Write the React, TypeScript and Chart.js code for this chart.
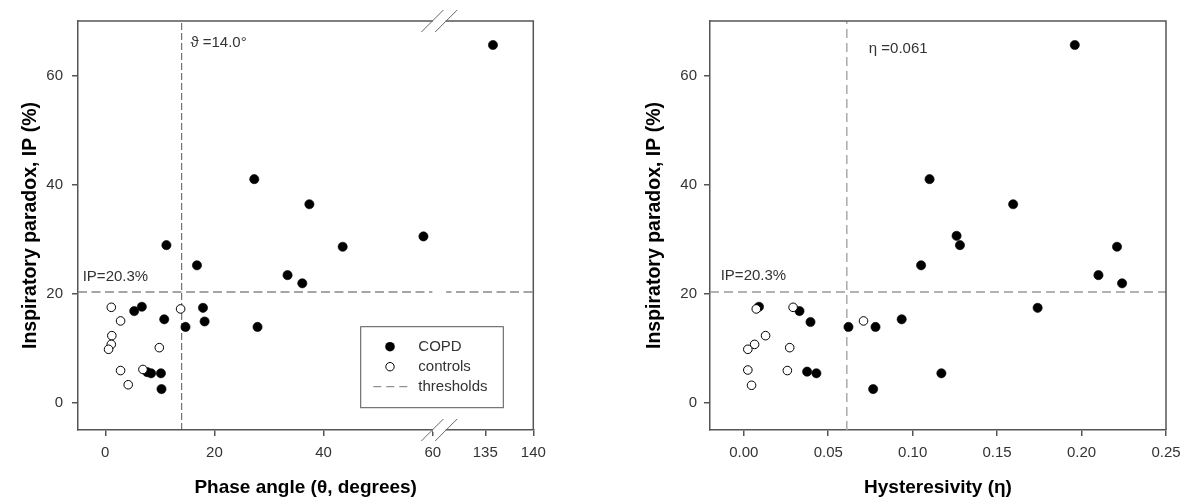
import React, { useEffect, useRef } from "react";
import { Chart, registerables } from "chart.js";

Chart.register(...registerables);

const FONT = "'Liberation Sans', Arial, Helvetica, sans-serif";
Chart.defaults.font.family = FONT;

const AXIS_COLOR = "#555";
const TEXT_COLOR = "#333";

// ---------- data ----------
// Left panel: phase angle θ (degrees) vs inspiratory paradox IP (%)
const copdTheta = [11.2, 16.8, 5.3, 6.7, 10.8, 17.9, 14.7, 18.2, 27.9, 7.7, 8.4, 10.2, 10.3, 33.4, 36.1, 43.5, 58.3, 37.4, 27.3, 135.8];
const copdIPTheta = [28.9, 25.2, 16.8, 17.6, 15.3, 17.4, 13.9, 14.9, 13.9, 5.6, 5.4, 5.4, 2.5, 23.4, 21.9, 28.6, 30.5, 36.4, 41.0, 65.6];
const ctrlTheta = [1.1, 2.8, 1.2, 1.1, 0.6, 9.9, 2.8, 6.9, 4.2, 13.8];
const ctrlIPTheta = [17.5, 15.0, 12.3, 10.7, 9.8, 10.1, 5.9, 6.1, 3.3, 17.2];

// Right panel: hysteresivity η vs IP (%)
const copdEta = [0.009, 0.033, 0.0395, 0.062, 0.078, 0.0935, 0.0375, 0.043, 0.0766, 0.126, 0.128, 0.105, 0.174, 0.21, 0.221, 0.224, 0.117, 0.196, 0.11, 0.1595];
const copdIPEta = [17.6, 16.8, 14.8, 13.9, 13.9, 15.3, 5.7, 5.4, 2.5, 30.6, 28.9, 25.2, 17.4, 23.4, 28.6, 21.9, 5.4, 65.6, 41.0, 36.4];
const ctrlEta = [0.0074, 0.0292, 0.0709, 0.0129, 0.0064, 0.0024, 0.0272, 0.0024, 0.0258, 0.0046];
const ctrlIPEta = [17.2, 17.5, 15.0, 12.3, 10.7, 9.8, 10.1, 6.0, 5.9, 3.2];

// thresholds
const THETA_T = 14.0;
const ETA_T = 0.061;
const IP_T = 20.3;

// ticks
const thetaTicks = [0, 20, 40, 60, 135, 140];
const etaTicks = [0, 0.05, 0.1, 0.15, 0.2, 0.25];
const ipTicks = [0, 20, 40, 60];

// axis ranges
const IP_MIN = -5;
const IP_MAX = 70;
const THETA_MIN = -5;
const ETA_MIN = -0.02;
const ETA_MAX = 0.25;

// broken θ axis: upper segment (135–140) is stretched after the break
const SEG2_START = 135;
const SEG2_AXIS = 69.63;
const SEG2_SCALE = 1.76;
const BREAK_AT = 61.2;
const thetaToAxis = (t: number) => (t <= 100 ? t : SEG2_AXIS + (t - SEG2_START) * SEG2_SCALE);
const THETA_AXIS_MAX = thetaToAxis(140);

const X_TITLE_LEFT = "Phase angle (θ, degrees)";
const X_TITLE_RIGHT = "Hysteresivity (η)";
const Y_TITLE = "Inspiratory paradox, IP (%)";
const LEGEND_ITEMS = ["COPD", "controls", "thresholds"];

// ---------- helpers ----------
function gridOpts() {
  return {
    display: true,
    drawOnChartArea: false,
    drawTicks: true,
    tickLength: 6,
    color: AXIS_COLOR,
    lineWidth: 1.5,
  };
}
function borderOpts() {
  return { display: true, color: AXIS_COLOR, width: 1.5 };
}

function pointSets(xs: number[], ys: number[], map: (v: number) => number) {
  return xs.map((x, i) => ({ x: map(x), y: ys[i] }));
}

function drawFrame(chart: any) {
  const { ctx, chartArea: a } = chart;
  ctx.save();
  ctx.strokeStyle = AXIS_COLOR;
  ctx.lineWidth = 1.5;
  ctx.beginPath();
  ctx.moveTo(a.left, a.top);
  ctx.lineTo(a.right, a.top);
  ctx.lineTo(a.right, a.bottom);
  ctx.stroke();
  ctx.restore();
}

function drawText(ctx: any, text: string, x: number, y: number) {
  ctx.save();
  ctx.font = `15px ${FONT}`;
  ctx.fillStyle = TEXT_COLOR;
  ctx.textBaseline = "middle";
  ctx.textAlign = "left";
  ctx.fillText(text, x, y);
  ctx.restore();
}

const leftDecor = {
  id: "leftDecor",
  afterDatasetsDraw(chart: any) {
    const { ctx, chartArea: a, scales } = chart;
    drawFrame(chart);
    // axis break
    const bx = scales.x.getPixelForValue(BREAK_AT);
    const half = 6.9;
    const yThr = scales.y.getPixelForValue(IP_T);
    ctx.save();
    ctx.fillStyle = "#fff";
    [a.top, a.bottom].forEach((y: number) => ctx.fillRect(bx - half + 0.5, y - 2, 2 * half - 1, 4));
    ctx.fillRect(bx - half, yThr - 2, 2 * half, 4);
    ctx.strokeStyle = "#666";
    ctx.lineWidth = 1;
    [a.top, a.bottom].forEach((y: number) => {
      [bx - half, bx + half].forEach((cx: number) => {
        ctx.beginPath();
        ctx.moveTo(cx - 11, y + 11);
        ctx.lineTo(cx + 11, y - 11);
        ctx.stroke();
      });
    });
    ctx.restore();

    // annotations
    const xThr = scales.x.getPixelForValue(thetaToAxis(THETA_T));
    drawText(ctx, `ϑ =${THETA_T.toFixed(1)}°`, xThr + 8.7, a.top + 22);
    drawText(ctx, `IP=${IP_T}%`, a.left + 4.7, yThr - 14.7);

    // legend
    const lw = 142.6;
    const lh = 81;
    const lx = a.right - 30 - lw;
    const ly = a.bottom - 22.3 - lh;
    ctx.save();
    ctx.fillStyle = "#fff";
    ctx.fillRect(lx, ly, lw, lh);
    ctx.strokeStyle = AXIS_COLOR;
    ctx.lineWidth = 1;
    ctx.strokeRect(lx, ly, lw, lh);
    const mx = lx + 29.3;
    const tx = lx + 57.6;
    const rows = [ly + 20, ly + 40, ly + 60];
    // COPD marker
    ctx.fillStyle = "#000";
    ctx.beginPath();
    ctx.arc(mx, rows[0], 4.8, 0, Math.PI * 2);
    ctx.fill();
    // controls marker
    ctx.fillStyle = "#fff";
    ctx.strokeStyle = "#000";
    ctx.lineWidth = 1;
    ctx.beginPath();
    ctx.arc(mx, rows[1], 4.2, 0, Math.PI * 2);
    ctx.fill();
    ctx.stroke();
    // thresholds line
    ctx.strokeStyle = "#777";
    ctx.lineWidth = 1;
    ctx.setLineDash([8, 5]);
    ctx.beginPath();
    ctx.moveTo(mx - 16.7, rows[2]);
    ctx.lineTo(mx + 18.3, rows[2]);
    ctx.stroke();
    ctx.setLineDash([]);
    ctx.restore();
    LEGEND_ITEMS.forEach((t, i) => drawText(ctx, t, tx, rows[i]));
  },
};

const rightDecor = {
  id: "rightDecor",
  afterDatasetsDraw(chart: any) {
    const { ctx, chartArea: a, scales } = chart;
    drawFrame(chart);
    const xThr = scales.x.getPixelForValue(ETA_T);
    const yThr = scales.y.getPixelForValue(IP_T);
    drawText(ctx, `η =${ETA_T}`, xThr + 22, a.top + 28);
    drawText(ctx, `IP=${IP_T}%`, a.left + 10.7, yThr - 16);
  },
};

function yScale(titlePadTop: number, tickPad: number) {
  return {
    type: "linear",
    min: IP_MIN,
    max: IP_MAX,
    afterBuildTicks: (s: any) => {
      s.ticks = ipTicks.map((v) => ({ value: v }));
    },
    ticks: {
      autoSkip: false,
      padding: tickPad,
      color: TEXT_COLOR,
      font: { size: 15, family: FONT },
      callback: (_v: any, i: number) => String(ipTicks[i]),
    },
    grid: gridOpts(),
    border: borderOpts(),
    title: {
      display: true,
      text: Y_TITLE,
      color: "#000",
      font: { size: 19.5, weight: "bold", family: FONT },
      padding: { top: titlePadTop, bottom: 0 },
    },
  };
}

function buildLeft(): any {
  return {
    type: "scatter",
    data: {
      datasets: [
        {
          label: "controls",
          data: pointSets(ctrlTheta, ctrlIPTheta, thetaToAxis),
          pointRadius: 4.3,
          pointBackgroundColor: "#fff",
          pointBorderColor: "#000",
          pointBorderWidth: 1,
          order: 0,
        },
        {
          label: "COPD",
          data: pointSets(copdTheta, copdIPTheta, thetaToAxis),
          pointRadius: 4.6,
          pointBackgroundColor: "#000",
          pointBorderColor: "#000",
          pointBorderWidth: 0.6,
          order: 1,
        },
        {
          label: "theta threshold",
          data: [
            { x: thetaToAxis(THETA_T), y: IP_MIN },
            { x: thetaToAxis(THETA_T), y: IP_MAX },
          ],
          showLine: true,
          pointRadius: 0,
          borderColor: "#555",
          borderWidth: 1,
          borderDash: [7, 3],
          order: 2,
        },
        {
          label: "IP threshold",
          data: [
            { x: THETA_MIN, y: IP_T },
            { x: THETA_AXIS_MAX, y: IP_T },
          ],
          showLine: true,
          pointRadius: 0,
          borderColor: "#888",
          borderWidth: 1.5,
          borderDash: [9, 4.5],
          order: 3,
        },
      ],
    },
    options: {
      responsive: false,
      animation: false,
      events: [],
      layout: { padding: { top: 21, right: 66.7, bottom: 0, left: 0 } },
      plugins: { legend: { display: false }, tooltip: { enabled: false } },
      scales: {
        x: {
          type: "linear",
          min: THETA_MIN,
          max: THETA_AXIS_MAX,
          afterFit: (s: any) => {
            s.height = 74;
          },
          afterBuildTicks: (s: any) => {
            s.ticks = thetaTicks.map((v) => ({ value: thetaToAxis(v) }));
          },
          ticks: {
            autoSkip: false,
            maxRotation: 0,
            padding: 8,
            color: TEXT_COLOR,
            font: { size: 15, family: FONT },
            callback: (_v: any, i: number) => String(thetaTicks[i]),
          },
          grid: gridOpts(),
          border: borderOpts(),
          title: {
            display: true,
            text: X_TITLE_LEFT,
            color: "#000",
            font: { size: 19, weight: "bold", family: FONT },
            padding: { top: 0, bottom: 4.6 },
          },
        },
        y: {
          ...yScale(19.3, 9),
          afterFit: (s: any) => {
            s.width = 78;
          },
        },
      },
    },
    plugins: [leftDecor],
  };
}

function buildRight(): any {
  return {
    type: "scatter",
    data: {
      datasets: [
        {
          label: "controls",
          data: pointSets(ctrlEta, ctrlIPEta, (v) => v),
          pointRadius: 4.3,
          pointBackgroundColor: "#fff",
          pointBorderColor: "#000",
          pointBorderWidth: 1,
          order: 0,
        },
        {
          label: "COPD",
          data: pointSets(copdEta, copdIPEta, (v) => v),
          pointRadius: 4.6,
          pointBackgroundColor: "#000",
          pointBorderColor: "#000",
          pointBorderWidth: 0.6,
          order: 1,
        },
        {
          label: "eta threshold",
          data: [
            { x: ETA_T, y: IP_MIN },
            { x: ETA_T, y: IP_MAX },
          ],
          showLine: true,
          pointRadius: 0,
          borderColor: "#aaa",
          borderWidth: 1.5,
          borderDash: [9, 5],
          order: 2,
        },
        {
          label: "IP threshold",
          data: [
            { x: ETA_MIN, y: IP_T },
            { x: ETA_MAX, y: IP_T },
          ],
          showLine: true,
          pointRadius: 0,
          borderColor: "#999",
          borderWidth: 1.5,
          borderDash: [9, 5],
          order: 3,
        },
      ],
    },
    options: {
      responsive: false,
      animation: false,
      events: [],
      layout: { padding: { top: 21, right: 26, bottom: 0, left: 0 } },
      plugins: { legend: { display: false }, tooltip: { enabled: false } },
      scales: {
        x: {
          type: "linear",
          min: ETA_MIN,
          max: ETA_MAX,
          afterFit: (s: any) => {
            s.height = 74;
          },
          afterBuildTicks: (s: any) => {
            s.ticks = etaTicks.map((v) => ({ value: v }));
          },
          ticks: {
            autoSkip: false,
            maxRotation: 0,
            padding: 8,
            color: TEXT_COLOR,
            font: { size: 15, family: FONT },
            callback: (_v: any, i: number) => etaTicks[i].toFixed(2),
          },
          grid: gridOpts(),
          border: borderOpts(),
          title: {
            display: true,
            text: X_TITLE_RIGHT,
            color: "#000",
            font: { size: 19, weight: "bold", family: FONT },
            padding: { top: 0, bottom: 4.6 },
          },
        },
        y: {
          ...yScale(43.3, 7),
          afterFit: (s: any) => {
            s.width = 110;
          },
        },
      },
    },
    plugins: [rightDecor],
  };
}

export default function App() {
  const leftRef = useRef<HTMLCanvasElement | null>(null);
  const rightRef = useRef<HTMLCanvasElement | null>(null);

  useEffect(() => {
    const charts: Chart[] = [];
    if (leftRef.current) charts.push(new Chart(leftRef.current, buildLeft()));
    if (rightRef.current) charts.push(new Chart(rightRef.current, buildRight()));
    return () => charts.forEach((c) => c.destroy());
  }, []);

  return (
    <div
      style={{
        position: "absolute",
        left: 0,
        top: 0,
        width: 1192,
        height: 504,
        display: "flex",
        background: "#fff",
      }}
    >
      <canvas ref={leftRef} width={600} height={504} style={{ display: "block", width: 600, height: 504 }} />
      <canvas ref={rightRef} width={592} height={504} style={{ display: "block", width: 592, height: 504 }} />
    </div>
  );
}
